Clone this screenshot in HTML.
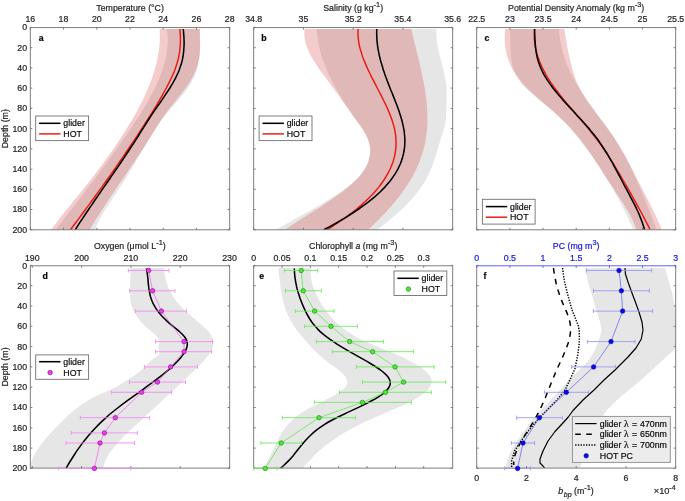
<!DOCTYPE html>
<html><head><meta charset="utf-8"><title>Figure</title>
<style>html,body{margin:0;padding:0;background:#fff}svg{display:block}text{stroke:#1a1a1a;stroke-width:0.2px}text.bl{stroke:#1414e6}</style></head>
<body>
<svg width="685" height="501" viewBox="0 0 685 501" font-family="'Liberation Sans', Arial, Helvetica, sans-serif">
<rect width="685" height="501" fill="#fff"/>
<defs>
<clipPath id="c00"><rect x="30.3" y="27.6" width="199.4" height="202.2"/></clipPath>
<clipPath id="c01"><rect x="30.3" y="265.8" width="199.4" height="202.3"/></clipPath>
<clipPath id="c10"><rect x="253.7" y="27.6" width="199.0" height="202.2"/></clipPath>
<clipPath id="c11"><rect x="253.7" y="265.8" width="199.0" height="202.3"/></clipPath>
<clipPath id="c20"><rect x="476.7" y="27.6" width="199.0" height="202.2"/></clipPath>
<clipPath id="c21"><rect x="476.7" y="265.8" width="199.0" height="202.3"/></clipPath>
</defs>
<path d="M166.8 29.0 L167.2 31.5 L167.4 34.1 L167.6 36.6 L167.7 39.2 L167.7 41.7 L167.6 44.3 L167.4 46.8 L167.1 49.3 L166.8 51.9 L166.4 54.4 L165.9 57.0 L165.4 59.5 L164.7 62.0 L164.0 64.6 L163.3 67.1 L162.4 69.7 L161.6 72.2 L160.6 74.8 L159.6 77.3 L158.6 79.8 L157.5 82.4 L156.3 84.9 L155.1 87.5 L153.9 90.0 L152.6 92.5 L151.3 95.1 L149.9 97.6 L148.5 100.2 L147.0 102.7 L145.6 105.3 L144.1 107.8 L142.5 110.3 L141.0 112.9 L139.4 115.4 L137.7 118.0 L136.1 120.5 L134.4 123.0 L132.8 125.6 L131.1 128.1 L129.3 130.7 L127.6 133.2 L125.9 135.8 L124.1 138.3 L122.3 140.8 L120.6 143.4 L118.8 145.9 L117.0 148.5 L115.2 151.0 L113.3 153.5 L111.5 156.1 L109.7 158.6 L107.8 161.2 L106.0 163.7 L104.1 166.3 L102.2 168.8 L100.3 171.3 L98.4 173.9 L96.5 176.4 L94.6 179.0 L92.7 181.5 L90.7 184.0 L88.8 186.6 L86.9 189.1 L84.9 191.7 L83.0 194.2 L81.0 196.8 L79.0 199.3 L77.1 201.8 L75.1 204.4 L73.1 206.9 L71.2 209.5 L69.2 212.0 L67.3 214.5 L65.4 217.1 L63.4 219.6 L61.5 222.2 L59.6 224.7 L57.7 227.3 L55.8 229.8 L95.0 229.8 L96.0 227.3 L97.1 224.7 L98.3 222.2 L99.6 219.6 L101.0 217.1 L102.4 214.5 L103.9 212.0 L105.5 209.5 L107.1 206.9 L108.7 204.4 L110.4 201.8 L112.1 199.3 L113.8 196.8 L115.5 194.2 L117.2 191.7 L118.9 189.1 L120.6 186.6 L122.2 184.0 L123.8 181.5 L125.4 179.0 L127.0 176.4 L128.5 173.9 L130.1 171.3 L131.6 168.8 L133.1 166.3 L134.6 163.7 L136.1 161.2 L137.6 158.6 L139.0 156.1 L140.5 153.5 L142.0 151.0 L143.5 148.5 L145.0 145.9 L146.5 143.4 L148.0 140.8 L149.6 138.3 L151.1 135.8 L152.7 133.2 L154.3 130.7 L156.0 128.1 L157.7 125.6 L159.4 123.0 L161.3 120.5 L163.2 118.0 L165.1 115.4 L167.2 112.9 L169.4 110.3 L171.6 107.8 L173.9 105.3 L176.1 102.7 L178.3 100.2 L180.5 97.6 L182.6 95.1 L184.7 92.5 L186.6 90.0 L188.4 87.5 L190.0 84.9 L191.5 82.4 L192.8 79.8 L194.0 77.3 L195.1 74.8 L196.0 72.2 L196.9 69.7 L197.6 67.1 L198.2 64.6 L198.7 62.0 L199.2 59.5 L199.5 57.0 L199.8 54.4 L200.0 51.9 L200.1 49.3 L200.2 46.8 L200.2 44.3 L200.2 41.7 L200.2 39.2 L200.1 36.6 L200.0 34.1 L199.9 31.5 L199.8 29.0Z" fill="#e6e6e6" clip-path="url(#c00)"/>
<path d="M159.6 29.0 L159.8 31.5 L159.8 34.1 L159.8 36.6 L159.8 39.2 L159.7 41.7 L159.5 44.3 L159.3 46.8 L159.0 49.3 L158.6 51.9 L158.2 54.4 L157.8 57.0 L157.2 59.5 L156.7 62.0 L156.1 64.6 L155.4 67.1 L154.7 69.7 L153.9 72.2 L153.1 74.8 L152.3 77.3 L151.4 79.8 L150.4 82.4 L149.4 84.9 L148.4 87.5 L147.3 90.0 L146.2 92.5 L145.1 95.1 L143.9 97.6 L142.7 100.2 L141.4 102.7 L140.1 105.3 L138.8 107.8 L137.4 110.3 L136.0 112.9 L134.6 115.4 L133.1 118.0 L131.7 120.5 L130.1 123.0 L128.6 125.6 L127.0 128.1 L125.5 130.7 L123.9 133.2 L122.2 135.8 L120.6 138.3 L118.9 140.8 L117.2 143.4 L115.5 145.9 L113.7 148.5 L112.0 151.0 L110.2 153.5 L108.4 156.1 L106.6 158.6 L104.7 161.2 L102.9 163.7 L101.0 166.3 L99.1 168.8 L97.2 171.3 L95.2 173.9 L93.3 176.4 L91.3 179.0 L89.3 181.5 L87.3 184.0 L85.3 186.6 L83.3 189.1 L81.2 191.7 L79.1 194.2 L77.1 196.8 L75.0 199.3 L72.9 201.8 L70.9 204.4 L68.8 206.9 L66.7 209.5 L64.7 212.0 L62.7 214.5 L60.7 217.1 L58.7 219.6 L56.8 222.2 L54.8 224.7 L52.9 227.3 L51.1 229.8 L89.7 229.8 L91.2 227.3 L92.7 224.7 L94.3 222.2 L95.8 219.6 L97.4 217.1 L99.0 214.5 L100.7 212.0 L102.3 209.5 L103.9 206.9 L105.6 204.4 L107.3 201.8 L109.0 199.3 L110.7 196.8 L112.4 194.2 L114.1 191.7 L115.8 189.1 L117.5 186.6 L119.2 184.0 L121.0 181.5 L122.7 179.0 L124.4 176.4 L126.2 173.9 L127.9 171.3 L129.6 168.8 L131.3 166.3 L133.0 163.7 L134.8 161.2 L136.5 158.6 L138.2 156.1 L139.9 153.5 L141.5 151.0 L143.2 148.5 L144.9 145.9 L146.5 143.4 L148.1 140.8 L149.7 138.3 L151.3 135.8 L152.9 133.2 L154.5 130.7 L156.1 128.1 L157.6 125.6 L159.3 123.0 L160.9 120.5 L162.6 118.0 L164.4 115.4 L166.2 112.9 L168.2 110.3 L170.1 107.8 L172.1 105.3 L174.2 102.7 L176.2 100.2 L178.2 97.6 L180.2 95.1 L182.2 92.5 L184.1 90.0 L186.0 87.5 L187.7 84.9 L189.4 82.4 L191.0 79.8 L192.5 77.3 L193.8 74.8 L195.0 72.2 L196.1 69.7 L197.0 67.1 L197.8 64.6 L198.4 62.0 L198.9 59.5 L199.3 57.0 L199.6 54.4 L199.8 51.9 L199.9 49.3 L200.0 46.8 L200.0 44.3 L199.9 41.7 L199.9 39.2 L199.9 36.6 L199.8 34.1 L199.8 31.5 L199.9 29.0Z" fill="#cc0000" fill-opacity="0.2" clip-path="url(#c00)"/>
<path d="M179.8 29.0 L180.1 31.5 L180.3 34.1 L180.4 36.6 L180.4 39.2 L180.4 41.7 L180.3 44.3 L180.1 46.8 L179.9 49.3 L179.6 51.9 L179.1 54.4 L178.7 57.0 L178.1 59.5 L177.4 62.0 L176.7 64.6 L175.8 67.1 L174.9 69.7 L173.9 72.2 L172.8 74.8 L171.7 77.3 L170.5 79.8 L169.2 82.4 L167.9 84.9 L166.6 87.5 L165.2 90.0 L163.8 92.5 L162.4 95.1 L161.0 97.6 L159.5 100.2 L158.0 102.7 L156.5 105.3 L155.0 107.8 L153.4 110.3 L151.9 112.9 L150.3 115.4 L148.7 118.0 L147.1 120.5 L145.5 123.0 L143.8 125.6 L142.2 128.1 L140.5 130.7 L138.9 133.2 L137.2 135.8 L135.5 138.3 L133.8 140.8 L132.1 143.4 L130.4 145.9 L128.7 148.5 L127.0 151.0 L125.3 153.5 L123.5 156.1 L121.8 158.6 L120.0 161.2 L118.3 163.7 L116.5 166.3 L114.7 168.8 L113.0 171.3 L111.2 173.9 L109.4 176.4 L107.6 179.0 L105.8 181.5 L104.0 184.0 L102.2 186.6 L100.3 189.1 L98.5 191.7 L96.7 194.2 L94.8 196.8 L93.0 199.3 L91.1 201.8 L89.3 204.4 L87.4 206.9 L85.5 209.5 L83.7 212.0 L81.8 214.5 L79.9 217.1 L78.0 219.6 L76.1 222.2 L74.2 224.7 L72.3 227.3 L70.4 229.8" fill="none" stroke="#e8190c" stroke-width="1.45" stroke-linejoin="round" clip-path="url(#c00)"/>
<path d="M183.2 29.0 L183.5 31.5 L183.7 34.1 L183.9 36.6 L184.0 39.2 L184.1 41.7 L184.1 44.3 L184.0 46.8 L183.8 49.3 L183.6 51.9 L183.3 54.4 L182.9 57.0 L182.4 59.5 L181.8 62.0 L181.1 64.6 L180.2 67.1 L179.3 69.7 L178.3 72.2 L177.1 74.8 L175.9 77.3 L174.6 79.8 L173.2 82.4 L171.7 84.9 L170.2 87.5 L168.6 90.0 L166.9 92.5 L165.2 95.1 L163.5 97.6 L161.8 100.2 L160.0 102.7 L158.2 105.3 L156.5 107.8 L154.7 110.3 L153.0 112.9 L151.3 115.4 L149.6 118.0 L148.0 120.5 L146.4 123.0 L144.8 125.6 L143.2 128.1 L141.6 130.7 L140.0 133.2 L138.4 135.8 L136.8 138.3 L135.2 140.8 L133.6 143.4 L131.9 145.9 L130.2 148.5 L128.6 151.0 L126.9 153.5 L125.2 156.1 L123.5 158.6 L121.7 161.2 L120.0 163.7 L118.3 166.3 L116.6 168.8 L114.8 171.3 L113.1 173.9 L111.3 176.4 L109.6 179.0 L107.8 181.5 L106.1 184.0 L104.3 186.6 L102.5 189.1 L100.8 191.7 L99.0 194.2 L97.3 196.8 L95.5 199.3 L93.8 201.8 L92.1 204.4 L90.3 206.9 L88.6 209.5 L86.9 212.0 L85.2 214.5 L83.5 217.1 L81.8 219.6 L80.1 222.2 L78.5 224.7 L76.8 227.3 L75.2 229.8" fill="none" stroke="#000" stroke-width="1.55" stroke-linejoin="round" clip-path="url(#c00)"/>
<rect x="30.3" y="27.6" width="199.4" height="202.2" fill="none" stroke="#707070" stroke-width="0.9"/>
<text x="27.1" y="30.3" font-size="8.8" text-anchor="end" fill="#262626">0</text>
<text x="27.1" y="50.6" font-size="8.8" text-anchor="end" fill="#262626">20</text>
<text x="27.1" y="70.8" font-size="8.8" text-anchor="end" fill="#262626">40</text>
<text x="27.1" y="91.0" font-size="8.8" text-anchor="end" fill="#262626">60</text>
<text x="27.1" y="111.3" font-size="8.8" text-anchor="end" fill="#262626">80</text>
<text x="27.1" y="131.5" font-size="8.8" text-anchor="end" fill="#262626">100</text>
<text x="27.1" y="151.7" font-size="8.8" text-anchor="end" fill="#262626">120</text>
<text x="27.1" y="172.0" font-size="8.8" text-anchor="end" fill="#262626">140</text>
<text x="27.1" y="192.2" font-size="8.8" text-anchor="end" fill="#262626">160</text>
<text x="27.1" y="212.4" font-size="8.8" text-anchor="end" fill="#262626">180</text>
<text x="27.1" y="232.7" font-size="8.8" text-anchor="end" fill="#262626">200</text>
<path d="M30.3 27.4h2.0M229.7 27.4h-2.0M30.3 47.7h2.0M229.7 47.7h-2.0M30.3 67.9h2.0M229.7 67.9h-2.0M30.3 88.1h2.0M229.7 88.1h-2.0M30.3 108.4h2.0M229.7 108.4h-2.0M30.3 128.6h2.0M229.7 128.6h-2.0M30.3 148.8h2.0M229.7 148.8h-2.0M30.3 169.1h2.0M229.7 169.1h-2.0M30.3 189.3h2.0M229.7 189.3h-2.0M30.3 209.5h2.0M229.7 209.5h-2.0M30.3 229.8h2.0M229.7 229.8h-2.0M30.3 27.6v2.0M30.3 229.8v-2.0M63.5 27.6v2.0M63.5 229.8v-2.0M96.8 27.6v2.0M96.8 229.8v-2.0M130.0 27.6v2.0M130.0 229.8v-2.0M163.2 27.6v2.0M163.2 229.8v-2.0M196.5 27.6v2.0M196.5 229.8v-2.0M229.7 27.6v2.0M229.7 229.8v-2.0" stroke="#707070" stroke-width="0.9" fill="none"/>
<text x="30.3" y="21.8" font-size="8.8" text-anchor="middle" fill="#262626">16</text>
<text x="63.5" y="21.8" font-size="8.8" text-anchor="middle" fill="#262626">18</text>
<text x="96.8" y="21.8" font-size="8.8" text-anchor="middle" fill="#262626">20</text>
<text x="130.0" y="21.8" font-size="8.8" text-anchor="middle" fill="#262626">22</text>
<text x="163.2" y="21.8" font-size="8.8" text-anchor="middle" fill="#262626">24</text>
<text x="196.5" y="21.8" font-size="8.8" text-anchor="middle" fill="#262626">26</text>
<text x="229.7" y="21.8" font-size="8.8" text-anchor="middle" fill="#262626">28</text>
<text transform="translate(8.2 128.7) rotate(-90)" font-size="8.8" text-anchor="middle" fill="#262626">Depth (m)</text>
<text x="130.1" y="10.6" font-size="8.8" text-anchor="middle" fill="#262626">Temperature (°C)</text>
<text x="38.7" y="40.6" font-size="8.8" text-anchor="start" fill="#000" font-weight="bold">a</text>
<rect x="35.7" y="116.0" width="52.9" height="24.6" fill="#fff" stroke="#707070" stroke-width="0.9"/>
<path d="M39.1 123.3H60.5" stroke="#000" stroke-width="1.55" fill="none"/>
<text x="63.3" y="126.4" font-size="8.8" text-anchor="start" fill="#000">glider</text>
<path d="M39.1 133.9H60.5" stroke="#e8190c" stroke-width="1.45" fill="none"/>
<text x="63.3" y="137.0" font-size="8.8" text-anchor="start" fill="#000">HOT</text>
<path d="M316.8 29.0 L316.9 31.5 L317.1 34.1 L317.4 36.6 L317.7 39.2 L318.1 41.7 L318.6 44.3 L319.1 46.8 L319.7 49.3 L320.4 51.9 L321.1 54.4 L321.9 57.0 L322.8 59.5 L323.7 62.0 L324.6 64.6 L325.6 67.1 L326.7 69.7 L327.8 72.2 L328.9 74.8 L330.2 77.3 L331.4 79.8 L332.7 82.4 L334.0 84.9 L335.4 87.5 L336.8 90.0 L338.3 92.5 L339.7 95.1 L341.3 97.6 L342.8 100.2 L344.4 102.7 L346.1 105.3 L347.8 107.8 L349.5 110.3 L351.2 112.9 L353.0 115.4 L354.8 118.0 L356.7 120.5 L358.5 123.0 L360.2 125.6 L361.9 128.1 L363.5 130.7 L364.9 133.2 L366.2 135.8 L367.3 138.3 L368.3 140.8 L369.0 143.4 L369.5 145.9 L369.9 148.5 L370.0 151.0 L369.9 153.5 L369.6 156.1 L369.1 158.6 L368.4 161.2 L367.5 163.7 L366.3 166.3 L364.8 168.8 L363.2 171.3 L361.2 173.9 L359.1 176.4 L356.6 179.0 L353.9 181.5 L351.0 184.0 L347.8 186.6 L344.5 189.1 L340.9 191.7 L337.1 194.2 L333.2 196.8 L329.2 199.3 L325.0 201.8 L320.7 204.4 L316.4 206.9 L311.9 209.5 L307.5 212.0 L302.9 214.5 L298.4 217.1 L293.8 219.6 L289.3 222.2 L284.8 224.7 L280.3 227.3 L276.0 229.8 L377.0 229.8 L380.4 227.3 L383.7 224.7 L386.9 222.2 L390.0 219.6 L393.1 217.1 L396.0 214.5 L398.8 212.0 L401.6 209.5 L404.2 206.9 L406.8 204.4 L409.2 201.8 L411.5 199.3 L413.8 196.8 L415.9 194.2 L417.9 191.7 L419.8 189.1 L421.6 186.6 L423.2 184.0 L424.8 181.5 L426.2 179.0 L427.6 176.4 L428.8 173.9 L430.0 171.3 L431.1 168.8 L432.1 166.3 L433.1 163.7 L434.0 161.2 L434.9 158.6 L435.7 156.1 L436.5 153.5 L437.2 151.0 L438.0 148.5 L438.7 145.9 L439.5 143.4 L440.2 140.8 L441.0 138.3 L441.8 135.8 L442.6 133.2 L443.4 130.7 L444.2 128.1 L444.9 125.6 L445.4 123.0 L445.7 120.5 L446.0 118.0 L446.1 115.4 L446.2 112.9 L446.2 110.3 L446.3 107.8 L446.4 105.3 L446.5 102.7 L446.6 100.2 L446.6 97.6 L446.7 95.1 L446.7 92.5 L446.6 90.0 L446.5 87.5 L446.2 84.9 L445.9 82.4 L445.5 79.8 L445.0 77.3 L444.5 74.8 L443.9 72.2 L443.3 69.7 L442.7 67.1 L442.0 64.6 L441.3 62.0 L440.7 59.5 L440.0 57.0 L439.4 54.4 L438.8 51.9 L438.3 49.3 L437.8 46.8 L437.3 44.3 L437.0 41.7 L436.7 39.2 L436.5 36.6 L436.4 34.1 L436.4 31.5 L436.6 29.0Z" fill="#e6e6e6" clip-path="url(#c10)"/>
<path d="M304.6 29.0 L304.3 31.5 L304.3 34.1 L304.4 36.6 L304.8 39.2 L305.3 41.7 L306.0 44.3 L306.8 46.8 L307.8 49.3 L308.9 51.9 L310.2 54.4 L311.5 57.0 L313.0 59.5 L314.5 62.0 L316.2 64.6 L317.9 67.1 L319.6 69.7 L321.5 72.2 L323.3 74.8 L325.2 77.3 L327.1 79.8 L329.0 82.4 L330.9 84.9 L332.7 87.5 L334.6 90.0 L336.4 92.5 L338.3 95.1 L340.1 97.6 L341.9 100.2 L343.7 102.7 L345.5 105.3 L347.3 107.8 L349.1 110.3 L350.9 112.9 L352.7 115.4 L354.5 118.0 L356.3 120.5 L358.1 123.0 L360.0 125.6 L361.8 128.1 L363.5 130.7 L365.1 133.2 L366.5 135.8 L367.7 138.3 L368.6 140.8 L369.4 143.4 L369.9 145.9 L370.2 148.5 L370.3 151.0 L370.1 153.5 L369.8 156.1 L369.2 158.6 L368.4 161.2 L367.5 163.7 L366.3 166.3 L364.9 168.8 L363.2 171.3 L361.4 173.9 L359.3 176.4 L357.0 179.0 L354.5 181.5 L351.8 184.0 L348.9 186.6 L345.7 189.1 L342.5 191.7 L339.0 194.2 L335.5 196.8 L331.8 199.3 L328.0 201.8 L324.2 204.4 L320.3 206.9 L316.3 209.5 L312.3 212.0 L308.3 214.5 L304.3 217.1 L300.3 219.6 L296.3 222.2 L292.4 224.7 L288.6 227.3 L284.8 229.8 L367.9 229.8 L370.7 227.3 L373.4 224.7 L376.0 222.2 L378.6 219.6 L381.2 217.1 L383.6 214.5 L386.0 212.0 L388.3 209.5 L390.6 206.9 L392.8 204.4 L394.9 201.8 L397.0 199.3 L399.0 196.8 L400.9 194.2 L402.7 191.7 L404.5 189.1 L406.2 186.6 L407.9 184.0 L409.5 181.5 L411.0 179.0 L412.4 176.4 L413.8 173.9 L415.1 171.3 L416.4 168.8 L417.5 166.3 L418.6 163.7 L419.7 161.2 L420.6 158.6 L421.5 156.1 L422.3 153.5 L423.1 151.0 L423.8 148.5 L424.4 145.9 L425.0 143.4 L425.5 140.8 L425.9 138.3 L426.3 135.8 L426.6 133.2 L426.9 130.7 L427.1 128.1 L427.3 125.6 L427.4 123.0 L427.4 120.5 L427.4 118.0 L427.4 115.4 L427.3 112.9 L427.2 110.3 L427.1 107.8 L426.9 105.3 L426.6 102.7 L426.4 100.2 L426.1 97.6 L425.7 95.1 L425.4 92.5 L425.0 90.0 L424.6 87.5 L424.1 84.9 L423.7 82.4 L423.2 79.8 L422.7 77.3 L422.1 74.8 L421.6 72.2 L421.0 69.7 L420.4 67.1 L419.9 64.6 L419.3 62.0 L418.7 59.5 L418.0 57.0 L417.4 54.4 L416.8 51.9 L416.2 49.3 L415.6 46.8 L414.9 44.3 L414.3 41.7 L413.7 39.2 L413.1 36.6 L412.5 34.1 L411.9 31.5 L411.3 29.0Z" fill="#cc0000" fill-opacity="0.2" clip-path="url(#c10)"/>
<path d="M358.1 29.0 L358.0 31.5 L358.0 34.1 L358.1 36.6 L358.3 39.2 L358.7 41.7 L359.1 44.3 L359.7 46.8 L360.3 49.3 L361.1 51.9 L361.9 54.4 L362.7 57.0 L363.7 59.5 L364.7 62.0 L365.8 64.6 L366.9 67.1 L368.1 69.7 L369.3 72.2 L370.5 74.8 L371.8 77.3 L373.1 79.8 L374.4 82.4 L375.7 84.9 L377.0 87.5 L378.3 90.0 L379.6 92.5 L381.0 95.1 L382.2 97.6 L383.5 100.2 L384.7 102.7 L386.0 105.3 L387.1 107.8 L388.2 110.3 L389.3 112.9 L390.3 115.4 L391.3 118.0 L392.1 120.5 L392.9 123.0 L393.7 125.6 L394.3 128.1 L394.9 130.7 L395.3 133.2 L395.7 135.8 L395.9 138.3 L396.0 140.8 L396.1 143.4 L396.0 145.9 L395.8 148.5 L395.5 151.0 L395.1 153.5 L394.6 156.1 L393.9 158.6 L393.2 161.2 L392.3 163.7 L391.3 166.3 L390.2 168.8 L389.0 171.3 L387.6 173.9 L386.2 176.4 L384.6 179.0 L382.9 181.5 L381.1 184.0 L379.2 186.6 L377.1 189.1 L374.9 191.7 L372.6 194.2 L370.2 196.8 L367.6 199.3 L364.9 201.8 L362.1 204.4 L359.2 206.9 L356.1 209.5 L352.9 212.0 L349.5 214.5 L346.1 217.1 L342.5 219.6 L338.7 222.2 L334.9 224.7 L330.9 227.3 L326.7 229.8" fill="none" stroke="#e8190c" stroke-width="1.45" stroke-linejoin="round" clip-path="url(#c10)"/>
<path d="M376.8 29.0 L376.7 31.5 L376.7 34.1 L376.8 36.6 L376.9 39.2 L377.1 41.7 L377.4 44.3 L377.7 46.8 L378.1 49.3 L378.6 51.9 L379.1 54.4 L379.7 57.0 L380.3 59.5 L381.0 62.0 L381.8 64.6 L382.5 67.1 L383.3 69.7 L384.2 72.2 L385.0 74.8 L385.9 77.3 L386.9 79.8 L387.8 82.4 L388.8 84.9 L389.8 87.5 L390.8 90.0 L391.9 92.5 L392.9 95.1 L393.9 97.6 L394.9 100.2 L395.9 102.7 L396.9 105.3 L397.8 107.8 L398.7 110.3 L399.6 112.9 L400.4 115.4 L401.2 118.0 L401.9 120.5 L402.5 123.0 L403.1 125.6 L403.6 128.1 L404.1 130.7 L404.4 133.2 L404.6 135.8 L404.8 138.3 L404.9 140.8 L404.8 143.4 L404.7 145.9 L404.4 148.5 L404.0 151.0 L403.5 153.5 L402.9 156.1 L402.2 158.6 L401.3 161.2 L400.4 163.7 L399.2 166.3 L398.0 168.8 L396.6 171.3 L395.1 173.9 L393.4 176.4 L391.6 179.0 L389.7 181.5 L387.5 184.0 L385.3 186.6 L382.9 189.1 L380.3 191.7 L377.6 194.2 L374.7 196.8 L371.6 199.3 L368.5 201.8 L365.1 204.4 L361.6 206.9 L358.0 209.5 L354.2 212.0 L350.3 214.5 L346.3 217.1 L342.0 219.6 L337.7 222.2 L333.2 224.7 L328.6 227.3 L323.8 229.8" fill="none" stroke="#000" stroke-width="1.55" stroke-linejoin="round" clip-path="url(#c10)"/>
<rect x="253.7" y="27.6" width="199.0" height="202.2" fill="none" stroke="#707070" stroke-width="0.9"/>
<path d="M253.7 27.4h2.0M452.7 27.4h-2.0M253.7 47.7h2.0M452.7 47.7h-2.0M253.7 67.9h2.0M452.7 67.9h-2.0M253.7 88.1h2.0M452.7 88.1h-2.0M253.7 108.4h2.0M452.7 108.4h-2.0M253.7 128.6h2.0M452.7 128.6h-2.0M253.7 148.8h2.0M452.7 148.8h-2.0M253.7 169.1h2.0M452.7 169.1h-2.0M253.7 189.3h2.0M452.7 189.3h-2.0M253.7 209.5h2.0M452.7 209.5h-2.0M253.7 229.8h2.0M452.7 229.8h-2.0M253.7 27.6v2.0M253.7 229.8v-2.0M303.5 27.6v2.0M303.5 229.8v-2.0M353.2 27.6v2.0M353.2 229.8v-2.0M402.9 27.6v2.0M402.9 229.8v-2.0M452.7 27.6v2.0M452.7 229.8v-2.0" stroke="#707070" stroke-width="0.9" fill="none"/>
<text x="253.7" y="21.8" font-size="8.8" text-anchor="middle" fill="#262626">34.8</text>
<text x="303.5" y="21.8" font-size="8.8" text-anchor="middle" fill="#262626">35</text>
<text x="353.2" y="21.8" font-size="8.8" text-anchor="middle" fill="#262626">35.2</text>
<text x="402.9" y="21.8" font-size="8.8" text-anchor="middle" fill="#262626">35.4</text>
<text x="452.7" y="21.8" font-size="8.8" text-anchor="middle" fill="#262626">35.6</text>
<text x="353.2" y="10.6" font-size="8.8" text-anchor="middle" fill="#262626">Salinity (g kg<tspan dy="-3.9" font-size="7.4">-1</tspan><tspan dy="3.9">)</tspan></text>
<text x="261.3" y="40.6" font-size="8.8" text-anchor="start" fill="#000" font-weight="bold">b</text>
<rect x="259.1" y="116.0" width="52.9" height="24.6" fill="#fff" stroke="#707070" stroke-width="0.9"/>
<path d="M262.5 123.3H283.9" stroke="#000" stroke-width="1.55" fill="none"/>
<text x="286.7" y="126.4" font-size="8.8" text-anchor="start" fill="#000">glider</text>
<path d="M262.5 133.9H283.9" stroke="#e8190c" stroke-width="1.45" fill="none"/>
<text x="286.7" y="137.0" font-size="8.8" text-anchor="start" fill="#000">HOT</text>
<path d="M509.9 29.0 L510.1 31.5 L510.3 34.1 L510.3 36.6 L510.4 39.2 L510.4 41.7 L510.4 44.3 L510.4 46.8 L510.5 49.3 L510.6 51.9 L510.7 54.4 L510.9 57.0 L511.3 59.5 L511.7 62.0 L512.2 64.6 L512.9 67.1 L513.7 69.7 L514.7 72.2 L515.9 74.8 L517.3 77.3 L518.8 79.8 L520.7 82.4 L522.7 84.9 L525.0 87.5 L527.6 90.0 L530.3 92.5 L533.2 95.1 L536.2 97.6 L539.3 100.2 L542.4 102.7 L545.6 105.3 L548.7 107.8 L551.8 110.3 L554.8 112.9 L557.6 115.4 L560.3 118.0 L562.9 120.5 L565.3 123.0 L567.7 125.6 L569.9 128.1 L572.1 130.7 L574.2 133.2 L576.2 135.8 L578.3 138.3 L580.3 140.8 L582.2 143.4 L584.2 145.9 L586.1 148.5 L588.0 151.0 L589.8 153.5 L591.7 156.1 L593.5 158.6 L595.2 161.2 L597.0 163.7 L598.7 166.3 L600.4 168.8 L602.0 171.3 L603.7 173.9 L605.3 176.4 L606.9 179.0 L608.4 181.5 L610.0 184.0 L611.5 186.6 L612.9 189.1 L614.4 191.7 L615.8 194.2 L617.2 196.8 L618.6 199.3 L620.0 201.8 L621.3 204.4 L622.6 206.9 L623.9 209.5 L625.1 212.0 L626.4 214.5 L627.6 217.1 L628.8 219.6 L629.9 222.2 L631.1 224.7 L632.2 227.3 L633.3 229.8 L656.7 229.8 L655.7 227.3 L654.7 224.7 L653.7 222.2 L652.7 219.6 L651.7 217.1 L650.8 214.5 L649.8 212.0 L648.8 209.5 L647.8 206.9 L646.8 204.4 L645.7 201.8 L644.7 199.3 L643.7 196.8 L642.7 194.2 L641.6 191.7 L640.6 189.1 L639.5 186.6 L638.4 184.0 L637.3 181.5 L636.2 179.0 L635.1 176.4 L634.0 173.9 L632.8 171.3 L631.6 168.8 L630.4 166.3 L629.2 163.7 L627.9 161.2 L626.6 158.6 L625.3 156.1 L623.9 153.5 L622.5 151.0 L621.1 148.5 L619.6 145.9 L618.1 143.4 L616.5 140.8 L614.9 138.3 L613.2 135.8 L611.5 133.2 L609.7 130.7 L607.9 128.1 L606.1 125.6 L604.2 123.0 L602.3 120.5 L600.4 118.0 L598.5 115.4 L596.5 112.9 L594.6 110.3 L592.7 107.8 L590.9 105.3 L589.0 102.7 L587.2 100.2 L585.4 97.6 L583.7 95.1 L582.0 92.5 L580.3 90.0 L578.7 87.5 L577.2 84.9 L575.7 82.4 L574.3 79.8 L572.9 77.3 L571.6 74.8 L570.4 72.2 L569.2 69.7 L568.1 67.1 L567.0 64.6 L566.0 62.0 L565.1 59.5 L564.2 57.0 L563.4 54.4 L562.7 51.9 L562.0 49.3 L561.4 46.8 L560.9 44.3 L560.4 41.7 L560.0 39.2 L559.6 36.6 L559.4 34.1 L559.2 31.5 L559.0 29.0Z" fill="#e6e6e6" clip-path="url(#c20)"/>
<path d="M505.3 29.0 L505.0 31.5 L504.8 34.1 L504.7 36.6 L504.7 39.2 L504.8 41.7 L504.9 44.3 L505.2 46.8 L505.6 49.3 L506.1 51.9 L506.7 54.4 L507.4 57.0 L508.2 59.5 L509.2 62.0 L510.2 64.6 L511.4 67.1 L512.8 69.7 L514.3 72.2 L515.9 74.8 L517.7 77.3 L519.7 79.8 L521.8 82.4 L524.0 84.9 L526.4 87.5 L529.0 90.0 L531.7 92.5 L534.5 95.1 L537.4 97.6 L540.3 100.2 L543.3 102.7 L546.2 105.3 L549.2 107.8 L552.2 110.3 L555.0 112.9 L557.8 115.4 L560.6 118.0 L563.2 120.5 L565.7 123.0 L568.2 125.6 L570.6 128.1 L572.9 130.7 L575.1 133.2 L577.2 135.8 L579.3 138.3 L581.3 140.8 L583.3 143.4 L585.2 145.9 L587.0 148.5 L588.8 151.0 L590.6 153.5 L592.3 156.1 L594.0 158.6 L595.7 161.2 L597.3 163.7 L599.0 166.3 L600.6 168.8 L602.2 171.3 L603.8 173.9 L605.4 176.4 L607.0 179.0 L608.7 181.5 L610.3 184.0 L612.0 186.6 L613.7 189.1 L615.4 191.7 L617.1 194.2 L618.8 196.8 L620.5 199.3 L622.1 201.8 L623.8 204.4 L625.3 206.9 L626.9 209.5 L628.4 212.0 L629.8 214.5 L631.1 217.1 L632.3 219.6 L633.5 222.2 L634.5 224.7 L635.5 227.3 L636.3 229.8 L661.8 229.8 L660.8 227.3 L659.7 224.7 L658.6 222.2 L657.5 219.6 L656.4 217.1 L655.2 214.5 L653.9 212.0 L652.7 209.5 L651.4 206.9 L650.2 204.4 L648.9 201.8 L647.6 199.3 L646.3 196.8 L644.9 194.2 L643.6 191.7 L642.3 189.1 L641.0 186.6 L639.7 184.0 L638.3 181.5 L637.0 179.0 L635.8 176.4 L634.4 173.9 L633.1 171.3 L631.8 168.8 L630.5 166.3 L629.2 163.7 L627.8 161.2 L626.4 158.6 L625.0 156.1 L623.6 153.5 L622.1 151.0 L620.7 148.5 L619.1 145.9 L617.6 143.4 L615.9 140.8 L614.3 138.3 L612.6 135.8 L610.8 133.2 L609.0 130.7 L607.2 128.1 L605.3 125.6 L603.4 123.0 L601.5 120.5 L599.6 118.0 L597.7 115.4 L595.8 112.9 L594.0 110.3 L592.1 107.8 L590.3 105.3 L588.5 102.7 L586.8 100.2 L585.1 97.6 L583.5 95.1 L582.0 92.5 L580.6 90.0 L579.3 87.5 L578.0 84.9 L576.9 82.4 L575.9 79.8 L574.9 77.3 L574.1 74.8 L573.3 72.2 L572.5 69.7 L571.8 67.1 L571.2 64.6 L570.6 62.0 L570.0 59.5 L569.4 57.0 L568.8 54.4 L568.3 51.9 L567.8 49.3 L567.3 46.8 L566.8 44.3 L566.4 41.7 L565.9 39.2 L565.5 36.6 L565.1 34.1 L564.7 31.5 L564.3 29.0Z" fill="#cc0000" fill-opacity="0.2" clip-path="url(#c20)"/>
<path d="M534.6 29.0 L534.4 31.5 L534.3 34.1 L534.3 36.6 L534.4 39.2 L534.6 41.7 L534.9 44.3 L535.3 46.8 L535.8 49.3 L536.4 51.9 L537.1 54.4 L537.9 57.0 L538.8 59.5 L539.8 62.0 L540.9 64.6 L542.0 67.1 L543.3 69.7 L544.6 72.2 L546.0 74.8 L547.5 77.3 L549.1 79.8 L550.7 82.4 L552.5 84.9 L554.3 87.5 L556.1 90.0 L558.1 92.5 L560.1 95.1 L562.1 97.6 L564.2 100.2 L566.3 102.7 L568.4 105.3 L570.6 107.8 L572.8 110.3 L575.0 112.9 L577.2 115.4 L579.4 118.0 L581.6 120.5 L583.7 123.0 L585.9 125.6 L588.0 128.1 L590.1 130.7 L592.1 133.2 L594.1 135.8 L596.1 138.3 L598.0 140.8 L599.8 143.4 L601.6 145.9 L603.4 148.5 L605.1 151.0 L606.8 153.5 L608.5 156.1 L610.1 158.6 L611.7 161.2 L613.3 163.7 L614.9 166.3 L616.4 168.8 L617.9 171.3 L619.4 173.9 L620.9 176.4 L622.4 179.0 L623.9 181.5 L625.3 184.0 L626.8 186.6 L628.2 189.1 L629.7 191.7 L631.1 194.2 L632.5 196.8 L634.0 199.3 L635.4 201.8 L636.8 204.4 L638.2 206.9 L639.6 209.5 L641.0 212.0 L642.3 214.5 L643.7 217.1 L645.0 219.6 L646.3 222.2 L647.6 224.7 L648.9 227.3 L650.1 229.8" fill="none" stroke="#e8190c" stroke-width="1.45" stroke-linejoin="round" clip-path="url(#c20)"/>
<path d="M534.6 29.0 L534.6 31.5 L534.7 34.1 L534.8 36.6 L534.9 39.2 L535.1 41.7 L535.3 44.3 L535.5 46.8 L535.8 49.3 L536.2 51.9 L536.6 54.4 L537.1 57.0 L537.8 59.5 L538.5 62.0 L539.4 64.6 L540.4 67.1 L541.5 69.7 L542.7 72.2 L544.1 74.8 L545.6 77.3 L547.2 79.8 L548.9 82.4 L550.7 84.9 L552.5 87.5 L554.5 90.0 L556.6 92.5 L558.7 95.1 L560.9 97.6 L563.1 100.2 L565.4 102.7 L567.7 105.3 L570.0 107.8 L572.4 110.3 L574.8 112.9 L577.1 115.4 L579.5 118.0 L581.8 120.5 L584.1 123.0 L586.3 125.6 L588.6 128.1 L590.7 130.7 L592.8 133.2 L594.8 135.8 L596.8 138.3 L598.6 140.8 L600.4 143.4 L602.1 145.9 L603.8 148.5 L605.4 151.0 L607.0 153.5 L608.5 156.1 L610.0 158.6 L611.4 161.2 L612.9 163.7 L614.2 166.3 L615.6 168.8 L617.0 171.3 L618.3 173.9 L619.6 176.4 L621.0 179.0 L622.3 181.5 L623.6 184.0 L625.0 186.6 L626.4 189.1 L627.7 191.7 L629.1 194.2 L630.4 196.8 L631.8 199.3 L633.1 201.8 L634.4 204.4 L635.7 206.9 L636.9 209.5 L638.1 212.0 L639.2 214.5 L640.2 217.1 L641.2 219.6 L642.2 222.2 L643.0 224.7 L643.8 227.3 L644.5 229.8" fill="none" stroke="#000" stroke-width="1.55" stroke-linejoin="round" clip-path="url(#c20)"/>
<rect x="476.7" y="27.6" width="199.0" height="202.2" fill="none" stroke="#707070" stroke-width="0.9"/>
<path d="M476.7 27.4h2.0M675.7 27.4h-2.0M476.7 47.7h2.0M675.7 47.7h-2.0M476.7 67.9h2.0M675.7 67.9h-2.0M476.7 88.1h2.0M675.7 88.1h-2.0M476.7 108.4h2.0M675.7 108.4h-2.0M476.7 128.6h2.0M675.7 128.6h-2.0M476.7 148.8h2.0M675.7 148.8h-2.0M476.7 169.1h2.0M675.7 169.1h-2.0M476.7 189.3h2.0M675.7 189.3h-2.0M476.7 209.5h2.0M675.7 209.5h-2.0M476.7 229.8h2.0M675.7 229.8h-2.0M476.7 27.6v2.0M476.7 229.8v-2.0M509.9 27.6v2.0M509.9 229.8v-2.0M543.0 27.6v2.0M543.0 229.8v-2.0M576.2 27.6v2.0M576.2 229.8v-2.0M609.4 27.6v2.0M609.4 229.8v-2.0M642.5 27.6v2.0M642.5 229.8v-2.0M675.7 27.6v2.0M675.7 229.8v-2.0" stroke="#707070" stroke-width="0.9" fill="none"/>
<text x="476.7" y="21.8" font-size="8.8" text-anchor="middle" fill="#262626">22.5</text>
<text x="509.9" y="21.8" font-size="8.8" text-anchor="middle" fill="#262626">23</text>
<text x="543.0" y="21.8" font-size="8.8" text-anchor="middle" fill="#262626">23.5</text>
<text x="576.2" y="21.8" font-size="8.8" text-anchor="middle" fill="#262626">24</text>
<text x="609.4" y="21.8" font-size="8.8" text-anchor="middle" fill="#262626">24.5</text>
<text x="642.5" y="21.8" font-size="8.8" text-anchor="middle" fill="#262626">25</text>
<text x="675.7" y="21.8" font-size="8.8" text-anchor="middle" fill="#262626">25.5</text>
<text x="576.2" y="10.6" font-size="8.8" text-anchor="middle" fill="#262626">Potential Density Anomaly (kg m<tspan dy="-3.9" font-size="7.4">-3</tspan><tspan dy="3.9">)</tspan></text>
<text x="484.5" y="40.6" font-size="8.8" text-anchor="start" fill="#000" font-weight="bold">c</text>
<rect x="482.4" y="199.3" width="52.7" height="24.8" fill="#fff" stroke="#707070" stroke-width="0.9"/>
<path d="M485.8 206.6H507.2" stroke="#000" stroke-width="1.55" fill="none"/>
<text x="510.0" y="209.7" font-size="8.8" text-anchor="start" fill="#000">glider</text>
<path d="M485.8 217.2H507.2" stroke="#e8190c" stroke-width="1.45" fill="none"/>
<text x="510.0" y="220.3" font-size="8.8" text-anchor="start" fill="#000">HOT</text>
<path d="M130.0 268.0 L130.3 270.5 L130.4 273.1 L130.4 275.6 L130.4 278.1 L130.3 280.7 L130.2 283.2 L130.1 285.7 L130.0 288.3 L130.0 290.8 L130.0 293.3 L130.0 295.8 L130.2 298.4 L130.6 300.9 L131.1 303.4 L131.7 306.0 L132.6 308.5 L133.6 311.0 L135.0 313.6 L136.6 316.1 L138.4 318.6 L140.4 321.2 L142.7 323.7 L145.3 326.2 L148.0 328.8 L151.0 331.3 L154.1 333.8 L157.0 336.4 L159.0 338.9 L159.7 341.4 L159.1 343.9 L158.4 346.5 L158.4 349.0 L159.8 351.5 L159.6 354.1 L156.9 356.6 L153.2 359.1 L150.0 361.7 L147.5 364.2 L145.2 366.7 L142.8 369.3 L139.7 371.8 L136.0 374.3 L132.0 376.9 L128.0 379.4 L124.1 381.9 L120.3 384.5 L116.0 387.0 L111.1 389.5 L105.2 392.1 L99.5 394.6 L94.3 397.1 L89.6 399.6 L85.3 402.2 L81.4 404.7 L77.9 407.2 L74.6 409.8 L71.6 412.3 L68.7 414.8 L66.1 417.4 L63.5 419.9 L61.0 422.4 L58.5 425.0 L56.0 427.5 L53.6 430.0 L51.2 432.6 L48.9 435.1 L46.7 437.6 L44.5 440.2 L42.5 442.7 L40.6 445.2 L38.7 447.7 L37.1 450.3 L35.5 452.8 L34.2 455.3 L32.9 457.9 L31.9 460.4 L31.1 462.9 L30.4 465.5 L30.0 468.0 L103.3 468.0 L103.8 465.5 L104.6 462.9 L105.6 460.4 L106.8 457.9 L108.2 455.3 L109.8 452.8 L111.6 450.3 L113.6 447.7 L115.7 445.2 L117.9 442.7 L120.2 440.2 L122.7 437.6 L125.2 435.1 L127.8 432.6 L130.4 430.0 L133.1 427.5 L135.9 425.0 L138.6 422.4 L141.4 419.9 L144.1 417.4 L146.9 414.8 L149.6 412.3 L152.3 409.8 L155.1 407.2 L157.8 404.7 L160.5 402.2 L163.3 399.6 L166.0 397.1 L168.7 394.6 L171.4 392.1 L174.1 389.5 L176.8 387.0 L179.5 384.5 L182.2 381.9 L184.8 379.4 L187.5 376.9 L190.2 374.3 L192.8 371.8 L195.4 369.3 L198.0 366.7 L200.5 364.2 L203.0 361.7 L205.3 359.1 L207.4 356.6 L209.2 354.1 L210.8 351.5 L212.1 349.0 L213.0 346.5 L213.5 343.9 L213.5 341.4 L213.0 338.9 L211.9 336.4 L210.3 333.8 L208.2 331.3 L205.8 328.8 L203.2 326.2 L200.3 323.7 L197.3 321.2 L194.2 318.6 L191.1 316.1 L188.2 313.6 L185.3 311.0 L182.8 308.5 L180.4 306.0 L178.2 303.4 L176.1 300.9 L174.3 298.4 L172.7 295.8 L171.2 293.3 L169.9 290.8 L168.7 288.3 L167.7 285.7 L166.8 283.2 L166.0 280.7 L165.4 278.1 L164.9 275.6 L164.5 273.1 L164.2 270.5 L164.1 268.0Z" fill="#e6e6e6" clip-path="url(#c01)"/>
<path d="M146.5 268.5 L146.9 271.0 L147.3 273.6 L147.6 276.1 L147.9 278.6 L148.1 281.1 L148.3 283.7 L148.6 286.2 L148.9 288.7 L149.3 291.2 L149.8 293.8 L150.4 296.3 L151.2 298.8 L152.1 301.3 L153.3 303.9 L154.7 306.4 L156.2 308.9 L158.1 311.5 L160.1 314.0 L162.3 316.5 L164.8 319.0 L167.5 321.6 L170.4 324.1 L173.4 326.6 L176.6 329.1 L179.6 331.7 L182.3 334.2 L184.5 336.7 L186.2 339.2 L187.1 341.8 L187.3 344.3 L187.0 346.8 L186.1 349.4 L184.8 351.9 L183.2 354.4 L181.3 356.9 L179.1 359.5 L176.8 362.0 L174.3 364.5 L171.6 367.0 L168.8 369.6 L165.8 372.1 L162.7 374.6 L159.5 377.1 L156.2 379.7 L152.9 382.2 L149.4 384.7 L146.0 387.2 L142.5 389.8 L139.0 392.3 L135.4 394.8 L131.9 397.4 L128.4 399.9 L125.0 402.4 L121.6 404.9 L118.3 407.5 L115.1 410.0 L111.9 412.5 L108.9 415.0 L106.1 417.6 L103.3 420.1 L100.6 422.6 L98.1 425.1 L95.6 427.7 L93.2 430.2 L91.0 432.7 L88.8 435.3 L86.7 437.8 L84.7 440.3 L82.7 442.8 L80.8 445.4 L79.0 447.9 L77.2 450.4 L75.5 452.9 L73.9 455.5 L72.3 458.0 L70.7 460.5 L69.1 463.0 L67.6 465.6 L66.1 468.1" fill="none" stroke="#000" stroke-width="1.55" stroke-linejoin="round" clip-path="url(#c01)"/>
<rect x="30.3" y="265.8" width="199.4" height="202.3" fill="none" stroke="#707070" stroke-width="0.9"/>
<text x="27.1" y="269.1" font-size="8.8" text-anchor="end" fill="#262626">0</text>
<text x="27.1" y="288.6" font-size="8.8" text-anchor="end" fill="#262626">20</text>
<text x="27.1" y="308.9" font-size="8.8" text-anchor="end" fill="#262626">40</text>
<text x="27.1" y="329.2" font-size="8.8" text-anchor="end" fill="#262626">60</text>
<text x="27.1" y="349.5" font-size="8.8" text-anchor="end" fill="#262626">80</text>
<text x="27.1" y="369.8" font-size="8.8" text-anchor="end" fill="#262626">100</text>
<text x="27.1" y="390.1" font-size="8.8" text-anchor="end" fill="#262626">120</text>
<text x="27.1" y="410.4" font-size="8.8" text-anchor="end" fill="#262626">140</text>
<text x="27.1" y="430.7" font-size="8.8" text-anchor="end" fill="#262626">160</text>
<text x="27.1" y="451.0" font-size="8.8" text-anchor="end" fill="#262626">180</text>
<text x="27.1" y="471.3" font-size="8.8" text-anchor="end" fill="#262626">200</text>
<path d="M30.3 265.4h2.0M229.7 265.4h-2.0M30.3 285.7h2.0M229.7 285.7h-2.0M30.3 306.0h2.0M229.7 306.0h-2.0M30.3 326.3h2.0M229.7 326.3h-2.0M30.3 346.6h2.0M229.7 346.6h-2.0M30.3 366.9h2.0M229.7 366.9h-2.0M30.3 387.2h2.0M229.7 387.2h-2.0M30.3 407.5h2.0M229.7 407.5h-2.0M30.3 427.8h2.0M229.7 427.8h-2.0M30.3 448.1h2.0M229.7 448.1h-2.0M30.3 468.4h2.0M229.7 468.4h-2.0M32.3 265.8v2.0M32.3 468.1v-2.0M81.6 265.8v2.0M81.6 468.1v-2.0M130.9 265.8v2.0M130.9 468.1v-2.0M180.2 265.8v2.0M180.2 468.1v-2.0M229.5 265.8v2.0M229.5 468.1v-2.0" stroke="#707070" stroke-width="0.9" fill="none"/>
<text x="32.3" y="260.5" font-size="8.8" text-anchor="middle" fill="#262626">190</text>
<text x="81.6" y="260.5" font-size="8.8" text-anchor="middle" fill="#262626">200</text>
<text x="130.9" y="260.5" font-size="8.8" text-anchor="middle" fill="#262626">210</text>
<text x="180.2" y="260.5" font-size="8.8" text-anchor="middle" fill="#262626">220</text>
<text x="229.5" y="260.5" font-size="8.8" text-anchor="middle" fill="#262626">230</text>
<text transform="translate(8.2 367.0) rotate(-90)" font-size="8.8" text-anchor="middle" fill="#262626">Depth (m)</text>
<path d="M128.4 270.5H169.0M128.4 268.5v4M169.0 268.5v4M129.6 290.8H175.0M129.6 288.8v4M175.0 288.8v4M135.6 311.1H186.6M135.6 309.1v4M186.6 309.1v4M155.6 341.6H212.6M155.6 339.6v4M212.6 339.6v4M155.6 351.7H211.6M155.6 349.7v4M211.6 349.7v4M144.4 366.9H197.4M144.4 364.9v4M197.4 364.9v4M129.4 382.1H185.6M129.4 380.1v4M185.6 380.1v4M111.6 392.3H171.6M111.6 390.3v4M171.6 390.3v4M80.4 417.7H149.5M80.4 415.7v4M149.5 415.7v4M71.4 432.9H137.4M71.4 430.9v4M137.4 430.9v4M66.0 443.0H134.6M66.0 441.0v4M134.6 441.0v4M58.4 468.4H130.6M58.4 466.4v4M130.6 466.4v4" stroke="#f08cf0" stroke-width="0.9" fill="none"/>
<path d="M148.6 270.5 L152.6 290.8 L161.4 311.1 L184.0 341.6 L184.0 351.7 L170.6 366.9 L157.5 382.1 L141.6 392.3 L115.3 417.7 L104.4 432.9 L100.0 443.0 L94.4 468.4" stroke="#f55cf5" stroke-width="0.7" fill="none"/>
<circle cx="148.6" cy="270.5" r="2.25" fill="#f736f7" stroke="#6e146e" stroke-width="0.6"/>
<circle cx="152.6" cy="290.8" r="2.25" fill="#f736f7" stroke="#6e146e" stroke-width="0.6"/>
<circle cx="161.4" cy="311.1" r="2.25" fill="#f736f7" stroke="#6e146e" stroke-width="0.6"/>
<circle cx="184.0" cy="341.6" r="2.25" fill="#f736f7" stroke="#6e146e" stroke-width="0.6"/>
<circle cx="184.0" cy="351.7" r="2.25" fill="#f736f7" stroke="#6e146e" stroke-width="0.6"/>
<circle cx="170.6" cy="366.9" r="2.25" fill="#f736f7" stroke="#6e146e" stroke-width="0.6"/>
<circle cx="157.5" cy="382.1" r="2.25" fill="#f736f7" stroke="#6e146e" stroke-width="0.6"/>
<circle cx="141.6" cy="392.3" r="2.25" fill="#f736f7" stroke="#6e146e" stroke-width="0.6"/>
<circle cx="115.3" cy="417.7" r="2.25" fill="#f736f7" stroke="#6e146e" stroke-width="0.6"/>
<circle cx="104.4" cy="432.9" r="2.25" fill="#f736f7" stroke="#6e146e" stroke-width="0.6"/>
<circle cx="100.0" cy="443.0" r="2.25" fill="#f736f7" stroke="#6e146e" stroke-width="0.6"/>
<circle cx="94.4" cy="468.4" r="2.25" fill="#f736f7" stroke="#6e146e" stroke-width="0.6"/>
<text x="129.8" y="249.0" font-size="8.8" text-anchor="middle" fill="#262626">Oxygen (μmol L<tspan dy="-3.9" font-size="7.4">-1</tspan><tspan dy="3.9">)</tspan></text>
<text x="42.4" y="279.3" font-size="8.8" text-anchor="start" fill="#000" font-weight="bold">d</text>
<rect x="35.7" y="354.9" width="52.9" height="24.4" fill="#fff" stroke="#707070" stroke-width="0.9"/>
<path d="M39.1 361.7H60.5" stroke="#000" stroke-width="1.55" fill="none"/>
<text x="63.3" y="364.8" font-size="8.8" text-anchor="start" fill="#000">glider</text>
<circle cx="50.1" cy="372.6" r="2.25" fill="#f736f7" stroke="#6e146e" stroke-width="0.6"/>
<text x="63.3" y="375.7" font-size="8.8" text-anchor="start" fill="#000">HOT</text>
<path d="M278.3 268.0 L278.6 270.5 L278.9 273.1 L279.1 275.6 L279.4 278.1 L279.7 280.7 L280.0 283.2 L280.3 285.7 L280.6 288.3 L281.0 290.8 L281.4 293.3 L281.9 295.8 L282.5 298.4 L283.1 300.9 L283.7 303.4 L284.5 306.0 L285.3 308.5 L286.2 311.0 L287.3 313.6 L288.4 316.1 L289.6 318.6 L291.0 321.2 L292.5 323.7 L294.1 326.2 L295.8 328.8 L297.7 331.3 L299.7 333.8 L301.9 336.4 L304.1 338.9 L306.3 341.4 L308.5 343.9 L310.8 346.5 L313.1 349.0 L315.6 351.5 L318.2 354.1 L321.0 356.6 L324.0 359.1 L327.3 361.7 L330.8 364.2 L334.3 366.7 L337.7 369.3 L340.7 371.8 L343.4 374.3 L345.5 376.9 L346.8 379.4 L347.3 381.9 L346.8 384.5 L345.5 387.0 L343.2 389.5 L339.9 392.1 L335.9 394.6 L331.4 397.1 L326.4 399.6 L321.3 402.2 L316.1 404.7 L311.1 407.2 L306.4 409.8 L302.2 412.3 L298.5 414.8 L295.3 417.4 L292.4 419.9 L289.8 422.4 L287.5 425.0 L285.5 427.5 L283.7 430.0 L282.0 432.6 L280.6 435.1 L279.2 437.6 L277.9 440.2 L276.7 442.7 L275.6 445.2 L274.4 447.7 L273.1 450.3 L271.8 452.8 L270.5 455.3 L269.1 457.9 L267.8 460.4 L266.6 462.9 L265.6 465.5 L264.9 468.0 L303.0 468.0 L305.1 465.5 L307.3 462.9 L309.6 460.4 L312.0 457.9 L314.4 455.3 L317.1 452.8 L319.9 450.3 L322.8 447.7 L326.0 445.2 L329.3 442.7 L332.9 440.2 L336.7 437.6 L340.6 435.1 L344.8 432.6 L349.2 430.0 L353.9 427.5 L358.8 425.0 L363.9 422.4 L369.3 419.9 L375.0 417.4 L380.9 414.8 L386.9 412.3 L392.9 409.8 L398.7 407.2 L404.4 404.7 L409.7 402.2 L414.5 399.6 L418.8 397.1 L422.6 394.6 L425.7 392.1 L428.2 389.5 L430.1 387.0 L431.3 384.5 L431.8 381.9 L431.6 379.4 L430.6 376.9 L428.9 374.3 L426.5 371.8 L423.4 369.3 L419.8 366.7 L415.7 364.2 L411.1 361.7 L406.1 359.1 L400.8 356.6 L395.2 354.1 L389.3 351.5 L383.3 349.0 L377.1 346.5 L371.1 343.9 L365.3 341.4 L360.0 338.9 L355.3 336.4 L351.1 333.8 L347.2 331.3 L343.7 328.8 L340.5 326.2 L337.5 323.7 L334.8 321.2 L332.3 318.6 L330.1 316.1 L328.0 313.6 L326.0 311.0 L324.3 308.5 L322.6 306.0 L321.1 303.4 L319.6 300.9 L318.3 298.4 L317.0 295.8 L315.8 293.3 L314.7 290.8 L313.7 288.3 L312.8 285.7 L312.1 283.2 L311.5 280.7 L311.1 278.1 L310.8 275.6 L310.7 273.1 L310.8 270.5 L311.0 268.0Z" fill="#e6e6e6" clip-path="url(#c11)"/>
<path d="M294.3 268.5 L294.4 271.0 L294.6 273.6 L294.8 276.1 L295.2 278.6 L295.5 281.1 L296.0 283.7 L296.5 286.2 L297.1 288.7 L297.8 291.2 L298.6 293.8 L299.4 296.3 L300.2 298.8 L301.2 301.3 L302.2 303.9 L303.3 306.4 L304.4 308.9 L305.6 311.4 L306.9 314.0 L308.3 316.5 L309.8 319.0 L311.4 321.5 L313.3 324.1 L315.4 326.6 L317.7 329.1 L320.2 331.6 L323.1 334.2 L326.3 336.7 L329.7 339.2 L333.4 341.7 L337.4 344.3 L341.5 346.8 L345.7 349.3 L350.1 351.8 L354.5 354.4 L358.9 356.9 L363.4 359.4 L367.8 361.9 L372.0 364.5 L376.1 367.0 L379.8 369.5 L383.1 372.0 L385.9 374.6 L388.1 377.1 L389.6 379.6 L390.3 382.1 L390.1 384.7 L389.0 387.2 L387.2 389.7 L384.7 392.2 L381.5 394.8 L377.7 397.3 L373.5 399.8 L368.8 402.3 L363.7 404.9 L358.5 407.4 L353.1 409.9 L347.7 412.4 L342.3 415.0 L337.1 417.5 L332.2 420.0 L327.6 422.5 L323.5 425.1 L319.8 427.6 L316.4 430.1 L313.4 432.6 L310.6 435.2 L308.1 437.7 L305.7 440.2 L303.5 442.7 L301.4 445.3 L299.4 447.8 L297.4 450.3 L295.4 452.8 L293.4 455.4 L291.2 457.9 L288.9 460.4 L286.4 462.9 L283.7 465.5 L280.7 468.0" fill="none" stroke="#000" stroke-width="1.55" stroke-linejoin="round" clip-path="url(#c11)"/>
<rect x="253.7" y="265.8" width="199.0" height="202.3" fill="none" stroke="#707070" stroke-width="0.9"/>
<path d="M253.7 265.4h2.0M452.7 265.4h-2.0M253.7 285.7h2.0M452.7 285.7h-2.0M253.7 306.0h2.0M452.7 306.0h-2.0M253.7 326.3h2.0M452.7 326.3h-2.0M253.7 346.6h2.0M452.7 346.6h-2.0M253.7 366.9h2.0M452.7 366.9h-2.0M253.7 387.2h2.0M452.7 387.2h-2.0M253.7 407.5h2.0M452.7 407.5h-2.0M253.7 427.8h2.0M452.7 427.8h-2.0M253.7 448.1h2.0M452.7 448.1h-2.0M253.7 468.4h2.0M452.7 468.4h-2.0M253.7 265.8v2.0M253.7 468.1v-2.0M282.0 265.8v2.0M282.0 468.1v-2.0M310.4 265.8v2.0M310.4 468.1v-2.0M338.7 265.8v2.0M338.7 468.1v-2.0M367.0 265.8v2.0M367.0 468.1v-2.0M395.4 265.8v2.0M395.4 468.1v-2.0M423.7 265.8v2.0M423.7 468.1v-2.0" stroke="#707070" stroke-width="0.9" fill="none"/>
<text x="253.7" y="260.5" font-size="8.8" text-anchor="middle" fill="#262626">0</text>
<text x="282.0" y="260.5" font-size="8.8" text-anchor="middle" fill="#262626">0.05</text>
<text x="310.4" y="260.5" font-size="8.8" text-anchor="middle" fill="#262626">0.1</text>
<text x="338.7" y="260.5" font-size="8.8" text-anchor="middle" fill="#262626">0.15</text>
<text x="367.0" y="260.5" font-size="8.8" text-anchor="middle" fill="#262626">0.2</text>
<text x="395.4" y="260.5" font-size="8.8" text-anchor="middle" fill="#262626">0.25</text>
<text x="423.7" y="260.5" font-size="8.8" text-anchor="middle" fill="#262626">0.3</text>
<path d="M284.4 270.5H317.6M284.4 268.5v4M317.6 268.5v4M285.4 290.8H321.4M285.4 288.8v4M321.4 288.8v4M295.4 311.1H334.0M295.4 309.1v4M334.0 309.1v4M304.6 326.3H357.4M304.6 324.3v4M357.4 324.3v4M316.4 341.6H383.6M316.4 339.6v4M383.6 339.6v4M332.4 351.7H413.4M332.4 349.7v4M413.4 349.7v4M356.4 366.9H434.0M356.4 364.9v4M434.0 364.9v4M362.4 382.1H445.6M362.4 380.1v4M445.6 380.1v4M339.4 392.3H431.4M339.4 390.3v4M431.4 390.3v4M314.4 402.4H411.4M314.4 400.4v4M411.4 400.4v4M282.4 417.7H355.4M282.4 415.7v4M355.4 415.7v4M261.0 443.0H301.4M261.0 441.0v4M301.4 441.0v4M253.5 468.4H277.0M253.5 466.4v4M277.0 466.4v4" stroke="#72ea62" stroke-width="0.9" fill="none"/>
<path d="M301.2 270.5 L303.2 290.8 L314.6 311.1 L331.0 326.3 L349.6 341.6 L372.6 351.7 L395.0 366.9 L403.6 382.1 L385.4 392.3 L362.4 402.4 L319.0 417.7 L281.2 443.0 L265.2 468.4" stroke="#4fe83a" stroke-width="0.7" fill="none"/>
<circle cx="301.2" cy="270.5" r="2.25" fill="#46ef2d" stroke="#1f7a1f" stroke-width="0.6"/>
<circle cx="303.2" cy="290.8" r="2.25" fill="#46ef2d" stroke="#1f7a1f" stroke-width="0.6"/>
<circle cx="314.6" cy="311.1" r="2.25" fill="#46ef2d" stroke="#1f7a1f" stroke-width="0.6"/>
<circle cx="331.0" cy="326.3" r="2.25" fill="#46ef2d" stroke="#1f7a1f" stroke-width="0.6"/>
<circle cx="349.6" cy="341.6" r="2.25" fill="#46ef2d" stroke="#1f7a1f" stroke-width="0.6"/>
<circle cx="372.6" cy="351.7" r="2.25" fill="#46ef2d" stroke="#1f7a1f" stroke-width="0.6"/>
<circle cx="395.0" cy="366.9" r="2.25" fill="#46ef2d" stroke="#1f7a1f" stroke-width="0.6"/>
<circle cx="403.6" cy="382.1" r="2.25" fill="#46ef2d" stroke="#1f7a1f" stroke-width="0.6"/>
<circle cx="385.4" cy="392.3" r="2.25" fill="#46ef2d" stroke="#1f7a1f" stroke-width="0.6"/>
<circle cx="362.4" cy="402.4" r="2.25" fill="#46ef2d" stroke="#1f7a1f" stroke-width="0.6"/>
<circle cx="319.0" cy="417.7" r="2.25" fill="#46ef2d" stroke="#1f7a1f" stroke-width="0.6"/>
<circle cx="281.2" cy="443.0" r="2.25" fill="#46ef2d" stroke="#1f7a1f" stroke-width="0.6"/>
<circle cx="265.2" cy="468.4" r="2.25" fill="#46ef2d" stroke="#1f7a1f" stroke-width="0.6"/>
<text x="353.2" y="249.0" font-size="8.8" text-anchor="middle" fill="#262626">Chlorophyll <tspan font-style="italic">a</tspan> (mg m<tspan dy="-3.9" font-size="7.4">-3</tspan><tspan dy="3.9">)</tspan></text>
<text x="259.2" y="279.3" font-size="8.8" text-anchor="start" fill="#000" font-weight="bold">e</text>
<rect x="394.0" y="271.0" width="52.8" height="24.5" fill="#fff" stroke="#707070" stroke-width="0.9"/>
<path d="M397.4 278.3H418.8" stroke="#000" stroke-width="1.55" fill="none"/>
<text x="421.6" y="281.4" font-size="8.8" text-anchor="start" fill="#000">glider</text>
<circle cx="408.4" cy="289.0" r="2.25" fill="#46ef2d" stroke="#1f7a1f" stroke-width="0.6"/>
<text x="421.6" y="292.1" font-size="8.8" text-anchor="start" fill="#000">HOT</text>
<path d="M585.0 268.0 L588.0 282.0 L591.0 292.0 L594.0 302.0 L597.0 312.0 L600.0 322.0 L601.6 330.0 L599.0 340.0 L595.0 350.0 L589.0 360.0 L579.0 370.0 L569.0 380.0 L560.0 390.0 L551.0 400.0 L541.0 410.0 L532.0 420.0 L524.0 431.0 L517.0 441.0 L511.0 451.0 L507.0 461.0 L505.0 468.0 L580.0 468.0 L583.0 458.0 L589.0 445.0 L596.0 430.0 L603.0 416.0 L607.0 410.0 L617.0 400.0 L629.0 390.0 L641.0 380.0 L652.0 370.0 L663.0 360.0 L667.0 356.0 L674.0 350.0 L679.0 340.0 L679.0 325.0 L676.0 312.0 L674.0 302.0 L672.0 292.0 L669.0 282.0 L665.0 268.0Z" fill="#e6e6e6" clip-path="url(#c21)"/>
<path d="M553.5 268.0 L553.8 270.5 L554.2 273.0 L554.6 275.5 L555.1 278.0 L555.6 280.5 L556.1 283.0 L556.7 285.5 L557.4 287.9 L558.1 290.4 L558.9 292.9 L559.7 295.4 L560.6 297.9 L561.6 300.4 L562.6 302.9 L563.7 305.4 L564.8 307.9 L565.9 310.4 L567.0 312.9 L567.9 315.4 L568.8 317.9 L569.5 320.4 L570.1 322.9 L570.4 325.4 L570.6 327.8 L570.5 330.3 L570.4 332.8 L570.0 335.3 L569.6 337.8 L569.0 340.3 L568.3 342.8 L567.4 345.3 L566.5 347.8 L565.6 350.3 L564.5 352.8 L563.4 355.3 L562.3 357.8 L561.2 360.3 L560.0 362.8 L558.8 365.3 L557.7 367.7 L556.6 370.2 L555.5 372.7 L554.4 375.2 L553.4 377.7 L552.3 380.2 L551.3 382.7 L550.3 385.2 L549.3 387.7 L548.3 390.2 L547.3 392.7 L546.3 395.2 L545.3 397.7 L544.2 400.2 L543.2 402.7 L542.0 405.2 L540.9 407.6 L539.7 410.1 L538.4 412.6 L537.1 415.1 L535.8 417.6 L534.4 420.1 L532.9 422.6 L531.3 425.1 L529.8 427.6 L528.2 430.1 L526.6 432.6 L525.0 435.1 L523.5 437.6 L522.0 440.1 L520.5 442.6 L519.2 445.1 L518.0 447.5 L516.9 450.0 L515.9 452.5 L515.1 455.0 L514.4 457.5 L513.9 460.0 L513.7 462.5 L513.7 465.0" fill="none" stroke="#000" stroke-width="1.5" stroke-dasharray="5.6 5.4" stroke-linejoin="round" clip-path="url(#c21)"/>
<path d="M562.6 268.0 L563.4 275.0 L564.6 282.0 L566.8 291.0 L569.2 300.0 L572.0 309.8 L575.2 318.0 L578.4 326.0 L579.2 330.4 L579.4 337.0 L579.2 344.0 L577.5 356.5 L574.8 369.0 L570.3 379.0 L565.0 390.0 L557.0 400.0 L547.0 410.0 L537.5 420.0 L529.0 430.0 L521.0 441.0 L514.5 451.0 L511.6 461.0 L511.6 468.0" fill="none" stroke="#000" stroke-width="1.5" stroke-dasharray="1.3 1.4" stroke-linejoin="round" clip-path="url(#c21)"/>
<path d="M625.0 268.0 L625.4 274.0 L628.0 282.0 L631.6 292.0 L635.4 302.0 L639.0 312.0 L642.0 322.0 L643.0 330.0 L641.3 339.0 L636.0 348.0 L628.0 357.0 L615.0 370.0 L604.0 380.0 L594.0 390.0 L583.0 400.0 L573.0 410.5 L568.3 417.0 L562.0 424.0 L555.0 431.5 L548.0 441.0 L543.0 451.0 L540.0 459.0 L540.0 463.0 L543.0 466.0 L544.6 468.0" fill="none" stroke="#000" stroke-width="1.2" stroke-linejoin="round" clip-path="url(#c21)"/>
<path d="M476.7 265.8V468.1H675.7V265.8" fill="none" stroke="#707070" stroke-width="0.9"/>
<text x="476.7" y="480.6" font-size="8.8" text-anchor="middle" fill="#262626">0</text>
<text x="526.5" y="480.6" font-size="8.8" text-anchor="middle" fill="#262626">2</text>
<text x="576.2" y="480.6" font-size="8.8" text-anchor="middle" fill="#262626">4</text>
<text x="626.0" y="480.6" font-size="8.8" text-anchor="middle" fill="#262626">6</text>
<text x="675.7" y="480.6" font-size="8.8" text-anchor="middle" fill="#262626">8</text>
<path d="M476.7 265.4h2.0M675.7 265.4h-2.0M476.7 285.7h2.0M675.7 285.7h-2.0M476.7 306.0h2.0M675.7 306.0h-2.0M476.7 326.3h2.0M675.7 326.3h-2.0M476.7 346.6h2.0M675.7 346.6h-2.0M476.7 366.9h2.0M675.7 366.9h-2.0M476.7 387.2h2.0M675.7 387.2h-2.0M476.7 407.5h2.0M675.7 407.5h-2.0M476.7 427.8h2.0M675.7 427.8h-2.0M476.7 448.1h2.0M675.7 448.1h-2.0M476.7 468.4h2.0M675.7 468.4h-2.0M476.7 468.1v-2.0M526.5 468.1v-2.0M576.2 468.1v-2.0M626.0 468.1v-2.0M675.7 468.1v-2.0" stroke="#707070" stroke-width="0.9" fill="none"/>
<text x="476.7" y="260.5" font-size="8.8" text-anchor="middle" fill="#1414e6" class="bl">0</text>
<text x="509.9" y="260.5" font-size="8.8" text-anchor="middle" fill="#1414e6" class="bl">0.5</text>
<text x="543.0" y="260.5" font-size="8.8" text-anchor="middle" fill="#1414e6" class="bl">1</text>
<text x="576.2" y="260.5" font-size="8.8" text-anchor="middle" fill="#1414e6" class="bl">1.5</text>
<text x="609.4" y="260.5" font-size="8.8" text-anchor="middle" fill="#1414e6" class="bl">2</text>
<text x="642.5" y="260.5" font-size="8.8" text-anchor="middle" fill="#1414e6" class="bl">2.5</text>
<text x="675.7" y="260.5" font-size="8.8" text-anchor="middle" fill="#1414e6" class="bl">3</text>
<path d="M476.4 265.8H676.0M476.7 265.8v2.0M509.9 265.8v2.0M543.0 265.8v2.0M576.2 265.8v2.0M609.4 265.8v2.0M642.5 265.8v2.0M675.7 265.8v2.0" stroke="#5050f0" stroke-width="0.9" fill="none"/>
<path d="M586.4 270.5H651.6M586.4 268.5v4M651.6 268.5v4M593.4 290.8H649.4M593.4 288.8v4M649.4 288.8v4M593.4 311.1H652.6M593.4 309.1v4M652.6 309.1v4M587.4 341.6H635.0M587.4 339.6v4M635.0 339.6v4M571.6 366.9H615.6M571.6 364.9v4M615.6 364.9v4M544.4 392.3H588.6M544.4 390.3v4M588.6 390.3v4M516.6 417.7H562.4M516.6 415.7v4M562.4 415.7v4M511.4 443.0H534.6M511.4 441.0v4M534.6 441.0v4M504.6 468.4H530.4M504.6 466.4v4M530.4 466.4v4" stroke="#9a9af0" stroke-width="0.9" fill="none"/>
<path d="M619.0 270.5 L621.4 290.8 L622.6 311.1 L611.0 341.6 L593.6 366.9 L566.3 392.3 L539.4 417.7 L523.0 443.0 L517.6 468.4" stroke="#5a5af0" stroke-width="0.7" fill="none"/>
<circle cx="619.0" cy="270.5" r="2.25" fill="#0a0ae6" stroke="#0000b0" stroke-width="0.6"/>
<circle cx="621.4" cy="290.8" r="2.25" fill="#0a0ae6" stroke="#0000b0" stroke-width="0.6"/>
<circle cx="622.6" cy="311.1" r="2.25" fill="#0a0ae6" stroke="#0000b0" stroke-width="0.6"/>
<circle cx="611.0" cy="341.6" r="2.25" fill="#0a0ae6" stroke="#0000b0" stroke-width="0.6"/>
<circle cx="593.6" cy="366.9" r="2.25" fill="#0a0ae6" stroke="#0000b0" stroke-width="0.6"/>
<circle cx="566.3" cy="392.3" r="2.25" fill="#0a0ae6" stroke="#0000b0" stroke-width="0.6"/>
<circle cx="539.4" cy="417.7" r="2.25" fill="#0a0ae6" stroke="#0000b0" stroke-width="0.6"/>
<circle cx="523.0" cy="443.0" r="2.25" fill="#0a0ae6" stroke="#0000b0" stroke-width="0.6"/>
<circle cx="517.6" cy="468.4" r="2.25" fill="#0a0ae6" stroke="#0000b0" stroke-width="0.6"/>
<text class="bl" x="576.2" y="249.0" font-size="8.8" text-anchor="middle" fill="#1414e6">PC (mg m<tspan dy="-3.9" font-size="7.4">3</tspan><tspan dy="3.9">)</tspan></text>
<text x="483.4" y="279.3" font-size="8.8" text-anchor="start" fill="#000" font-weight="bold">f</text>
<rect x="572.4" y="416.4" width="97.9" height="46.0" fill="#ececec" stroke="#8c8c8c" stroke-width="0.9"/>
<path d="M575.2 423.6H596.6" stroke="#000" stroke-width="1.2" fill="none"/>
<text x="599.8" y="426.7" font-size="8.8" text-anchor="start" fill="#000"><tspan x="599.8">glider</tspan><tspan x="624.0" font-family="'Liberation Serif', 'DejaVu Serif', serif" font-size="9.8">λ</tspan><tspan x="632.0">=</tspan><tspan x="640.0">470nm</tspan></text>
<path d="M575.2 434.3H596.6" stroke="#000" stroke-width="1.5" stroke-dasharray="5.6 5.4" fill="none"/>
<text x="599.8" y="437.4" font-size="8.8" text-anchor="start" fill="#000"><tspan x="599.8">glider</tspan><tspan x="624.0" font-family="'Liberation Serif', 'DejaVu Serif', serif" font-size="9.8">λ</tspan><tspan x="632.0">=</tspan><tspan x="640.0">650nm</tspan></text>
<path d="M575.2 445.1H596.6" stroke="#000" stroke-width="1.5" stroke-dasharray="1.3 1.4" fill="none"/>
<text x="599.8" y="448.2" font-size="8.8" text-anchor="start" fill="#000"><tspan x="599.8">glider</tspan><tspan x="624.0" font-family="'Liberation Serif', 'DejaVu Serif', serif" font-size="9.8">λ</tspan><tspan x="632.0">=</tspan><tspan x="640.0">700nm</tspan></text>
<circle cx="586.2" cy="455.8" r="2.25" fill="#0a0ae6" stroke="#0000b0" stroke-width="0.6"/>
<text x="599.8" y="458.9" font-size="8.8" text-anchor="start" fill="#000">HOT PC</text>
<text x="576.0" y="494.0" font-size="8.8" text-anchor="middle" fill="#262626"><tspan font-style="italic">b</tspan><tspan font-style="italic" dx="0.6" dy="3.2" font-size="7">bp</tspan><tspan dy="-3.2"> (m</tspan><tspan dy="-3.9" font-size="7.4">-1</tspan><tspan dy="3.9">)</tspan></text>
<text x="675.6" y="494.0" font-size="9.2" text-anchor="end" fill="#262626">×10<tspan dy="-3.8" font-size="7">-4</tspan></text>
</svg>
</body></html>
